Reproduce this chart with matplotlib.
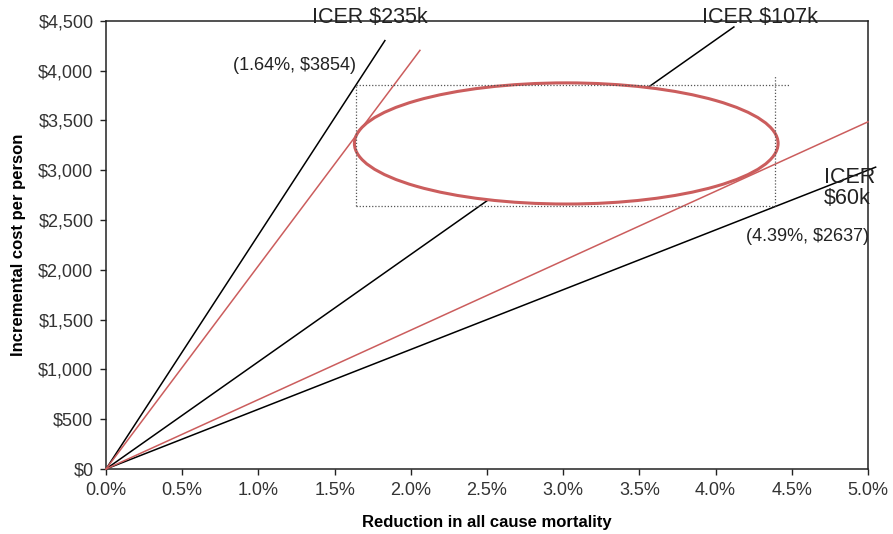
import matplotlib
matplotlib.use("Agg")
import matplotlib.pyplot as plt
from matplotlib.patches import Ellipse
from matplotlib.ticker import FuncFormatter
import numpy as np

plt.rcParams['font.family'] = ['Liberation Sans', 'DejaVu Sans']

# ICER lines (slope in $ per unit mortality reduction), end x (fraction)
black_slopes = [235000, 107700, 60000]
black_ends = [0.0183, 0.0412, 0.0505]
red_slopes = [204000, 69700]
red_ends = [0.0206, 0.0500]

# Confidence ellipse
ell_center = (0.0302, 3268)
ell_width = 0.0278
ell_height = 1216

# Corner points
pt_low_x, pt_low_y = 0.0164, 3854
pt_high_x, pt_high_y = 0.0439, 2637

RED = '#cb5d5d'

fig = plt.figure(figsize=(8.93, 5.34), dpi=100)
ax = fig.add_axes([0.1187, 0.1217, 0.972 - 0.1187, 0.9612 - 0.1217])

for s, e in zip(black_slopes, black_ends):
    xs = np.array([0, e])
    ax.plot(xs, s * xs, color='black', lw=1.1, clip_on=False, zorder=2)
for s, e in zip(red_slopes, red_ends):
    xs = np.array([0, e])
    ax.plot(xs, s * xs, color=RED, lw=1.1, clip_on=False, zorder=4)

ell = Ellipse(ell_center, ell_width, ell_height, facecolor='white',
              edgecolor=RED, lw=2.2, zorder=3)
ax.add_patch(ell)

# dotted box
dot = dict(color='#555555', lw=0.9, ls=(0, (1, 1.5)), zorder=5)
ax.plot([pt_low_x, 0.0449], [pt_low_y, pt_low_y], **dot)
ax.plot([pt_low_x, pt_high_x], [pt_high_y, pt_high_y], **dot)
ax.plot([pt_low_x, pt_low_x], [pt_high_y, pt_low_y], **dot)
ax.plot([pt_high_x, pt_high_x], [pt_high_y, 3950], **dot)

ax.set_xlim(0, 0.05)
ax.set_ylim(0, 4500)
ax.set_xticks(np.arange(0, 0.0501, 0.005))
ax.set_yticks(np.arange(0, 4501, 500))
ax.xaxis.set_major_formatter(FuncFormatter(lambda v, p: f"{v*100:.1f}%"))
ax.yaxis.set_major_formatter(FuncFormatter(lambda v, p: f"${v:,.0f}"))
ax.tick_params(labelsize=13, length=4, width=1, pad=5, colors='#222222',
               labelcolor='#333333')
for sp in ax.spines.values():
    sp.set_linewidth(1.1)
    sp.set_color('#222222')

ax.set_xlabel('Reduction in all cause mortality', fontsize=12, fontweight='bold',
              labelpad=12)
ax.set_ylabel('Incremental cost per person', fontsize=12, fontweight='bold',
              labelpad=9)

tc = '#222222'
ax.text(0.0173, 4530, 'ICER $235k', fontsize=15.5, ha='center', va='center',
        color=tc, clip_on=False, zorder=6)
ax.text(0.0429, 4530, 'ICER $107k', fontsize=15.5, ha='center', va='center',
        color=tc, clip_on=False, zorder=6)
ax.text(0.0471, 2820, 'ICER\n$60k', fontsize=15.5, ha='left', va='center',
        color=tc, linespacing=1.0, clip_on=False, zorder=6)
ax.text(0.0124, 4050, f'({pt_low_x*100:.2f}%, ${pt_low_y})', fontsize=13,
        ha='center', va='center', color=tc, zorder=6)
ax.text(0.0460, 2330, f'({pt_high_x*100:.2f}%, ${pt_high_y})', fontsize=13,
        ha='center', va='center', color=tc, zorder=6)

fig.savefig('out.png', dpi=100)
